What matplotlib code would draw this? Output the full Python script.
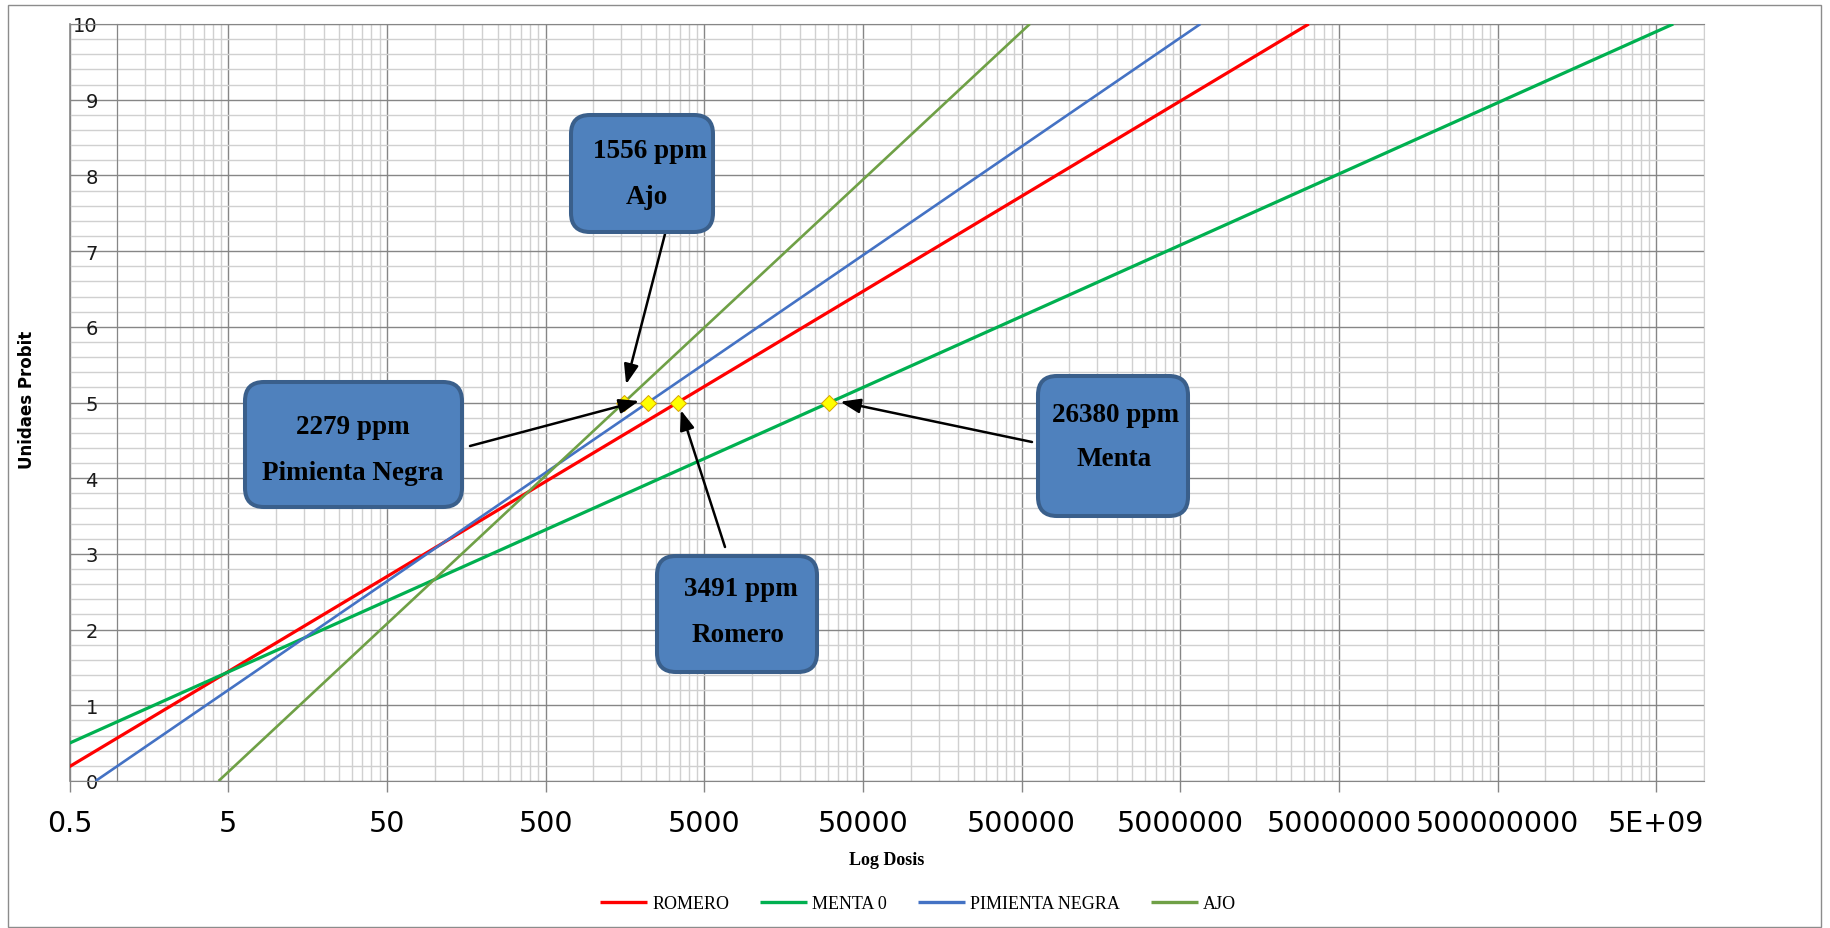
import matplotlib
matplotlib.use("Agg")
import matplotlib.pyplot as plt
from matplotlib.ticker import FixedLocator, FixedFormatter, LogLocator, MultipleLocator, NullFormatter
from matplotlib.patches import FancyBboxPatch, Rectangle
from matplotlib.transforms import IdentityTransform

# ---------------- data ----------------
series_names = ["ROMERO", "MENTA 0", "PIMIENTA NEGRA", "AJO"]
series_colors = ["#FF0000", "#00B050", "#4472C4", "#6FA046"]
series_widths = [2.3, 2.3, 1.9, 1.9]

romero_dosis = [0.5, 3400, 3.23e7]
romero_probit = [0.19, 5.0, 10.0]
menta_dosis = [0.5, 30800, 6.4e9]
menta_probit = [0.50, 5.0, 10.0]
pimienta_dosis = [0.73, 2210, 6.7e6]
pimienta_probit = [0.0, 5.0, 10.0]
ajo_dosis = [4.35, 1560, 5.64e5]
ajo_probit = [0.0, 5.0, 10.0]

# LC50 markers (yellow diamonds)
lc50_dosis = [1560, 2210, 3400, 30800]
lc50_probit = [5.0, 5.0, 5.0, 5.0]

# call-out boxes
callout_lines1 = ["1556 ppm", "2279 ppm", "3491 ppm", "26380 ppm"]
callout_lines2 = ["Ajo", "Pimienta Negra", "Romero", "Menta"]
arrow_tip_dosis = [1610, 1945, 3563, 36060]
arrow_tip_probit = [5.24, 5.02, 4.90, 5.01]

x_ticks = [0.5, 5, 50, 500, 5000, 50000, 500000, 5000000, 50000000, 500000000, 5e9]
x_tick_labels = ["0.5", "5", "50", "500", "5000", "50000", "500000", "5000000",
                 "50000000", "500000000", "5E+09"]
y_ticks = [0, 1, 2, 3, 4, 5, 6, 7, 8, 9, 10]
x_limits = (0.5, 1e10)
y_limits = (0, 10)

# ---------------- layout (pixels of the 1830x929 image) ----------------
W, H = 1830, 929
fig = plt.figure(figsize=(W / 100, H / 100), dpi=100)
fig.patch.set_facecolor("white")

ax_left, ax_right, ax_top, ax_bottom = 69.5, 1704, 25, 782
ax = fig.add_axes([ax_left / W, 1 - ax_bottom / H, (ax_right - ax_left) / W, (ax_bottom - ax_top) / H])

MAJOR = "#868686"
MINOR = "#D0D0D0"

xs = [romero_dosis, menta_dosis, pimienta_dosis, ajo_dosis]
ys = [romero_probit, menta_probit, pimienta_probit, ajo_probit]
handles = []
for xv, yv, name, col, lw in zip(xs, ys, series_names, series_colors, series_widths):
    h, = ax.plot(xv, yv, color=col, lw=lw, label=name, solid_capstyle="butt", zorder=3)
    handles.append(h)

ax.plot(lc50_dosis, lc50_probit, linestyle="none", marker="D", markersize=8.6,
        markerfacecolor="#FFFF00", markeredgecolor="#D8A200", markeredgewidth=0.7, zorder=4)

ax.set_xscale("log")
ax.set_xlim(*x_limits)
ax.set_ylim(*y_limits)

ax.xaxis.set_major_locator(FixedLocator(x_ticks))
ax.xaxis.set_major_formatter(FixedFormatter(x_tick_labels))
ax.xaxis.set_minor_locator(LogLocator(base=10, subs=[1, 1.5, 2, 2.5, 3, 3.5, 4, 4.5], numticks=100))
ax.xaxis.set_minor_formatter(NullFormatter())
ax.yaxis.set_major_locator(FixedLocator(y_ticks))
ax.yaxis.set_minor_locator(MultipleLocator(0.2))

ax.set_axisbelow(True)
ax.grid(which="major", color=MAJOR, lw=1.0)
ax.grid(which="minor", color=MINOR, lw=1.0)

ax.tick_params(axis="x", which="major", direction="out", length=8, width=1, color=MAJOR,
               labelsize=20.5, pad=12.5, labelcolor="black")
ax.tick_params(axis="x", which="minor", length=0)
ax.tick_params(axis="y", which="both", length=0)
ax.tick_params(axis="y", which="major", labelsize=14, pad=14, labelcolor="#1a1a1a")

ax.spines["left"].set_position(("data", 1))
ax.spines["left"].set_color(MAJOR)
ax.spines["bottom"].set_color(MAJOR)
ax.spines["top"].set_color(MAJOR)
ax.spines["right"].set_color(MINOR)
ax.axvline(x_ticks[0], color=MAJOR, lw=1.2, clip_on=False, zorder=1)

# ---------------- call-out boxes ----------------
box_rects = [(571, 116, 713, 233), (245, 383, 462, 508), (657, 557, 817, 673), (1038, 377, 1188, 517)]
text1_pos = [(650, 152), (353, 428), (741, 590), (1116, 415)]
text2_pos = [(647, 197), (353, 474), (738, 636), (1114, 460)]
arrow_starts = [(665, 235), (470, 447), (725, 548), (1032, 443)]

for (x0, y0, x1, y1) in box_rects:
    p = FancyBboxPatch((x0, H - y1), x1 - x0, y1 - y0,
                       boxstyle="round,pad=0,rounding_size=19",
                       transform=IdentityTransform(), facecolor="#4F81BD",
                       edgecolor="#3A5F8B", linewidth=2.9, zorder=5)
    fig.add_artist(p)

for t1, t2, (a, b), (c, d) in zip(callout_lines1, callout_lines2, text1_pos, text2_pos):
    fig.text(a / W, 1 - b / H, t1, ha="center", va="center", fontsize=19.5,
             family="Liberation Serif", weight="bold", color="black", zorder=6)
    fig.text(c / W, 1 - d / H, t2, ha="center", va="center", fontsize=19.5,
             family="Liberation Serif", weight="bold", color="black", zorder=6)

for (sx, sy), tx, ty in zip(arrow_starts, arrow_tip_dosis, arrow_tip_probit):
    ax.annotate("", xy=(tx, ty), xycoords="data", xytext=(sx, H - sy), textcoords="figure pixels",
                annotation_clip=False,
                arrowprops=dict(arrowstyle="-|>,head_length=0.6,head_width=0.22", color="black",
                                lw=1.8, shrinkA=0, shrinkB=0, mutation_scale=20), zorder=6)

# ---------------- titles / legend / frame ----------------
fig.text(887 / W, 1 - 861 / H, "Log Dosis", ha="center", va="center", fontsize=13,
         family="Liberation Serif", weight="bold")
fig.text(27 / W, 1 - 400 / H, "Unidaes Probit", ha="center", va="center", rotation=90,
         fontsize=12, family="DejaVu Sans", weight="bold")

leg = fig.legend(handles, series_names, loc="center", bbox_to_anchor=(918 / W, 1 - 905 / H), ncol=4,
                 frameon=False, prop={"family": "Liberation Serif", "size": 13},
                 handlelength=2.6, handletextpad=0.3, columnspacing=1.7)
for lh in leg.get_lines():
    lh.set_linewidth(2.4)

fig.add_artist(Rectangle((8, 1), 1813, 922, transform=IdentityTransform(), fill=False,
                         edgecolor="#8C8C8C", linewidth=1.0, zorder=0))

fig.savefig("out.png", dpi=100, facecolor="white")
